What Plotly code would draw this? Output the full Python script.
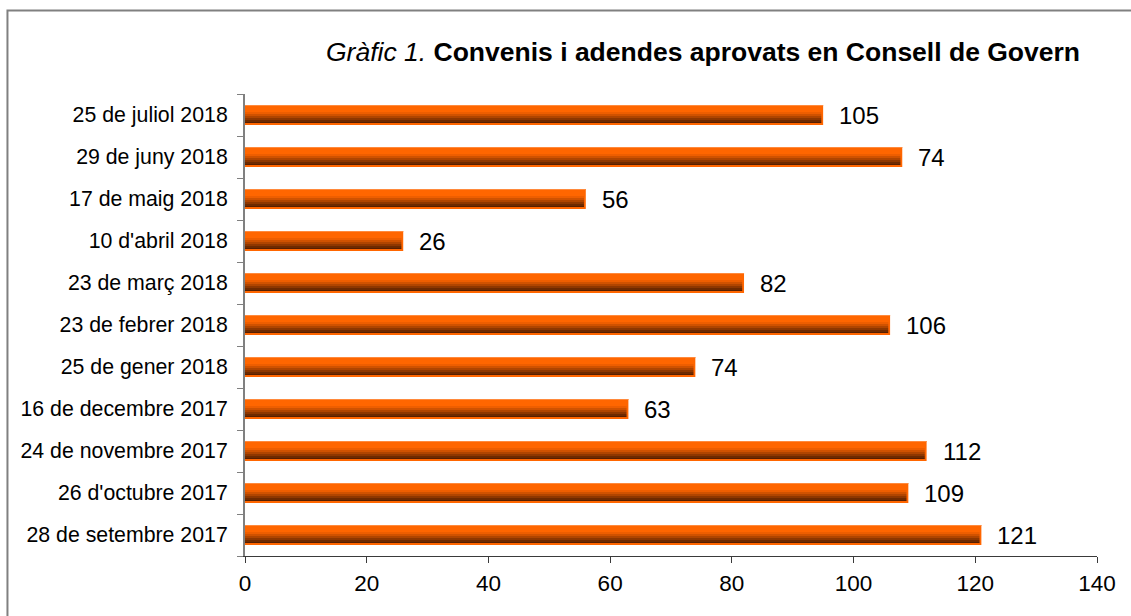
import plotly.graph_objects as go

# Data (bottom to top)
categories = [
    "28 de setembre 2017",
    "26 d'octubre 2017",
    "24 de novembre 2017",
    "16 de decembre 2017",
    "25 de gener 2018",
    "23 de febrer 2018",
    "23 de març 2018",
    "10 d'abril 2018",
    "17 de maig 2018",
    "29 de juny 2018",
    "25 de juliol 2018",
]
values = [121, 109, 112, 63, 74, 106, 82, 26, 56, 108, 95]
value_labels = ["121", "109", "112", "63", "74", "106", "82", "26", "56", "74", "105"]

FONT = "'Liberation Sans', Arial, sans-serif"
PX = 1.0 / 42.0  # one pixel in category units (approx)
BAR_H = 20 * PX

fig = go.Figure()

# Base bar (orange, also acts as outline)
fig.add_trace(go.Bar(
    y=categories, x=values, orientation="h",
    width=BAR_H, offset=-BAR_H / 2,
    marker=dict(color="#FF6600", line=dict(width=0)),
    hoverinfo="x+y", showlegend=False,
))

# Gradient strips (pixel offsets from top of bar, colour)
strips = [
    (7, 9, "#EE5E00"),
    (9, 11, "#D05200"),
    (11, 13, "#B04500"),
    (13, 15, "#8E3700"),
    (15, 17, "#6E2A00"),
    (17, 18, "#571F00"),
]
inner_x = [v - 0.3 for v in values]
for top_px, bot_px, col in strips:
    w = (bot_px - top_px) * PX
    off = BAR_H / 2 - bot_px * PX
    fig.add_trace(go.Bar(
        y=categories, x=inner_x, orientation="h",
        width=w, offset=off,
        marker=dict(color=col, line=dict(width=0)),
        hoverinfo="skip", showlegend=False,
    ))
# thin light top edge
fig.add_trace(go.Bar(
    y=categories, x=values, orientation="h",
    width=1 * PX, offset=BAR_H / 2 - 1 * PX,
    marker=dict(color="#FF8A3D", line=dict(width=0)),
    hoverinfo="skip", showlegend=False,
))

# Value labels
for c, v, t in zip(categories, values, value_labels):
    fig.add_annotation(
        x=v, y=c, xref="x", yref="y", text=t, showarrow=False,
        xanchor="left", yanchor="middle", xshift=14,
        font=dict(family=FONT, size=24, color="#000000"),
    )

# Title
fig.add_annotation(
    xref="paper", yref="paper", x=0.9824, y=1.0909,
    xanchor="right", yanchor="middle", showarrow=False,
    text="<i>Gràfic 1.</i> <b>Convenis i adendes aprovats en Consell de Govern</b>",
    font=dict(family=FONT, size=26.5, color="#000000"),
)

# Outer border (extends off-canvas on right and bottom)
fig.add_shape(
    type="rect", xref="paper", yref="paper",
    x0=-0.2788, y0=-0.3, x1=1.2, y1=1.1807,
    line=dict(color="#808080", width=2), fillcolor="rgba(0,0,0,0)", layer="below",
)

fig.update_layout(
    barmode="overlay",
    width=1131, height=616,
    margin=dict(l=245, r=34, t=94, b=60),
    plot_bgcolor="white", paper_bgcolor="white",
    font=dict(family=FONT, color="#000000"),
    xaxis=dict(
        range=[0, 140], dtick=20, tick0=0,
        showgrid=False, zeroline=False,
        showline=True, linecolor="#3a3a3a", linewidth=1,
        ticks="outside", ticklen=6, tickcolor="#3a3a3a",
        tickfont=dict(family=FONT, size=22.5, color="#000000"),
        ticklabelstandoff=1,
    ),
    yaxis=dict(
        type="category", categoryorder="array", categoryarray=categories,
        range=[-0.5, len(categories) - 0.5],
        showgrid=False, zeroline=False,
        showline=True, linecolor="#808080", linewidth=2,
        ticks="outside", ticklen=6, tickcolor="#808080", tickson="boundaries",
        tickfont=dict(family=FONT, size=21.3, color="#000000"),
        ticklabelstandoff=11,
    ),
)

fig.write_html(
    "out.html",
    config={"displayModeBar": False},
    post_script="document.body.style.margin='0';document.body.style.overflow='hidden';",
)
